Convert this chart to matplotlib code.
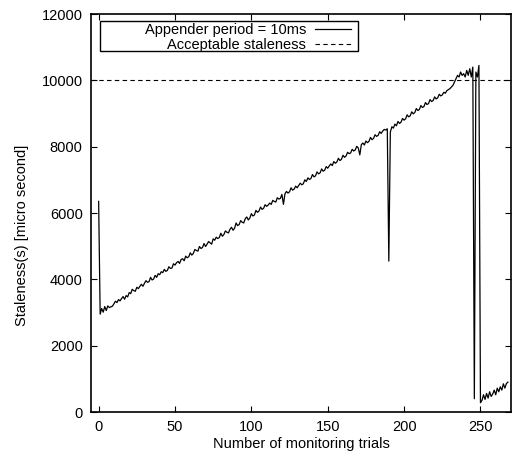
import numpy as np
import matplotlib
matplotlib.use("Agg")
import matplotlib.pyplot as plt
from matplotlib.patches import Rectangle

plt.rcParams['font.family'] = ['Liberation Sans', 'DejaVu Sans']
plt.rcParams['font.size'] = 10.5

# staleness per monitoring trial (micro seconds)
staleness = [
    6350, 2950, 3120, 3010, 3180, 3060, 3200, 3150, 3170, 3190,
    3260, 3340, 3300, 3390, 3350, 3420, 3480, 3400, 3510, 3470,
    3600, 3570, 3700, 3660, 3640, 3760, 3720, 3790, 3850, 3790,
    3880, 3960, 3910, 3930, 4060, 3980, 4010, 4120, 4060, 4170,
    4140, 4230, 4200, 4300, 4240, 4270, 4380, 4330, 4340, 4470,
    4430, 4500, 4540, 4480, 4600, 4620, 4560, 4700, 4650, 4680,
    4800, 4730, 4780, 4900, 4870, 4850, 4990, 4930, 4960, 5080,
    4990, 5060, 5140, 5100, 5060, 5220, 5180, 5270, 5230, 5260,
    5390, 5300, 5350, 5460, 5420, 5400, 5510, 5570, 5480, 5540,
    5700, 5620, 5650, 5770, 5720, 5700, 5830, 5880, 5790, 5850,
    5980, 5910, 5940, 6080, 6020, 6060, 6180, 6110, 6140, 6250,
    6200, 6240, 6300, 6260, 6380, 6350, 6330, 6460, 6420, 6440,
    6560, 6260, 6580, 6650, 6600, 6640, 6760, 6690, 6720, 6810,
    6760, 6830, 6900, 6850, 6880, 7000, 6950, 7060, 7010, 7040,
    7160, 7090, 7120, 7240, 7180, 7210, 7330, 7260, 7290, 7400,
    7350, 7420, 7480, 7430, 7550, 7500, 7540, 7650, 7580, 7620,
    7740, 7680, 7720, 7830, 7790, 7810, 7920, 7870, 7900, 8010,
    7960, 7750, 8060, 8110, 8050, 8170, 8120, 8160, 8280, 8210,
    8250, 8360, 8310, 8340, 8450, 8400, 8470, 8520, 8500, 8540,
    4550, 8440, 8600, 8560, 8680, 8630, 8760, 8700, 8740, 8850,
    8800, 8840, 8960, 8900, 8930, 9050, 8990, 9030, 9150, 9090,
    9120, 9240, 9180, 9210, 9330, 9270, 9300, 9420, 9360, 9390,
    9500, 9440, 9470, 9580, 9530, 9560, 9640, 9610, 9690, 9720,
    9750, 9800, 9850, 9950, 10050, 10150, 10100, 10250, 10150, 10200,
    10100, 10300, 10150, 10350, 10100, 10400, 400, 10250, 10100, 10450,
    280, 350, 520, 380, 560, 420, 610, 470, 540, 660,
    520, 720, 610, 760, 660, 850, 720, 860, 900,
]
trials = np.arange(len(staleness))
acceptable = 10000

fig = plt.figure(figsize=(5.19, 4.58), dpi=100)
ax = fig.add_axes([91 / 519, 46 / 458, 420 / 519, 398 / 458])

ax.plot(trials, staleness, color='black', lw=0.9, label='Appender period = 10ms')
ax.axhline(acceptable, color='black', lw=0.8, ls=(0, (4, 3)), label='Acceptable staleness')

ax.set_xlim(-5, 270)
ax.set_ylim(0, 12000)
ax.set_xticks(range(0, 251, 50))
ax.set_yticks(range(0, 12001, 2000))
ax.tick_params(direction='in', length=4.5, width=0.8, top=True, right=True, pad=6)
for s in ax.spines.values():
    s.set_linewidth(1.2)

ax.set_xlabel('Number of monitoring trials', labelpad=2)
ax.set_ylabel('Staleness(s) [micro second]')
# gnuplot put the label a bit below the middle of the axis
ax.yaxis.set_label_coords(-0.147, 0.445)

leg = ax.legend(loc='upper right', bbox_to_anchor=(263 / 420, 1 - 6 / 398),
                frameon=False, markerfirst=False, handlelength=2.5,
                handletextpad=0.6, labelspacing=0.1, borderpad=0.2, borderaxespad=0)
ax.add_patch(Rectangle(((100 - 91) / 420, 1 - 37 / 398), 258 / 420, 30 / 398,
                       transform=ax.transAxes, fill=False, lw=1.0, ec='black'))

fig.savefig('out.png', dpi=100)
